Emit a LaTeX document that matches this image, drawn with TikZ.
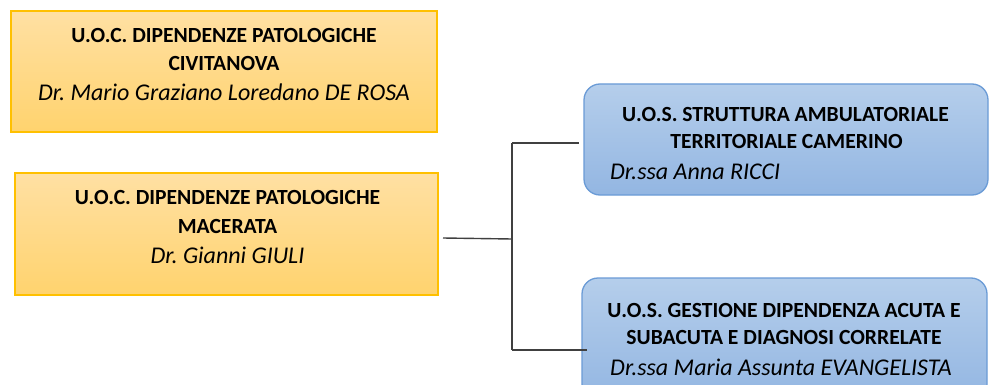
\documentclass[tikz,border=0pt]{standalone}
\usepackage{fontspec}
\setmainfont{Carlito}
\definecolor{orTop}{HTML}{FFE0A3}
\definecolor{orBot}{HTML}{FFD36E}
\definecolor{orLine}{HTML}{FFC000}
\definecolor{blTop}{HTML}{B5CEEB}
\definecolor{blBot}{HTML}{93B6E2}
\definecolor{blLine}{HTML}{6A9BD6}
\definecolor{conn}{HTML}{404040}
\tikzset{
  obox/.style={draw=orLine, line width=1.5pt, top color=orTop, bottom color=orBot, inner sep=0pt},
  bbox/.style={draw=blLine, line width=1.3pt, top color=blTop, bottom color=blBot, rounded corners=16pt, inner sep=0pt},
  bt/.style={anchor=base, inner sep=0pt, font=\frenchspacing\fontsize{21.6}{25}\selectfont\bfseries},
  it/.style={anchor=base, inner sep=0pt, font=\frenchspacing\fontsize{24}{28}\selectfont\itshape},
  itl/.style={anchor=base west, inner sep=0pt, font=\frenchspacing\fontsize{24}{28}\selectfont\itshape},
  link/.style={draw=conn, line width=1.4pt}
}
\begin{document}
\begin{tikzpicture}[x=1pt,y=-1pt]
\clip (0,0) rectangle (998,385);
\fill[white] (0,0) rectangle (998,385);
% boxes
\path[obox] (11,11) rectangle (437,132);
\node (civ) at (224,71.5) {};
\path[obox] (15,173) rectangle (438,295);
\node (mac) at (226.5,234) {};
\path[bbox] (584,84) rectangle (988,195);
\node (cam) at (786,139.5) {};
\path[bbox] (582,278) rectangle (987,400);
\node (gest) at (784.5,339) {};
% texts
\node[bt] (c1) at (224,43) {U.O.C. DIPENDENZE PATOLOGICHE};
\node[bt] (c2) at (224,71) {CIVITANOVA};
\node[it] (c3) at (224,101) {Dr. Mario Graziano Loredano DE ROSA};
\node[bt] (m1) at (227.5,204) {U.O.C. DIPENDENZE PATOLOGICHE};
\node[bt] (m2) at (227.5,233) {MACERATA};
\node[it] (m3) at (227.5,263) {Dr. Gianni GIULI};
\node[bt] (a1) at (785.5,122) {U.O.S. STRUTTURA AMBULATORIALE};
\node[bt] (a2) at (786.5,148) {TERRITORIALE CAMERINO};
\node[itl] (a3) at (610,179) {Dr.ssa Anna RICCI};
\node[bt] (g1) at (784,317) {U.O.S. GESTIONE DIPENDENZA ACUTA E};
\node[bt] (g2) at (784,344) {SUBACUTA E DIAGNOSI CORRELATE};
\node[it] (g3) at (781,375) {Dr.ssa Maria Assunta EVANGELISTA};
% connectors
\coordinate (s) at (443,238);
\coordinate (j) at (512,239);
\coordinate (jt) at (512,143);
\coordinate (jb) at (512,350);
\coordinate (et) at (579,143);
\coordinate (eb) at (587,350);
\draw[link] (s) -- (j);
\draw[link] (jt) -- (jb);
\draw[link] (jt) -- (et);
\draw[link] (jb) -- (eb);
\end{tikzpicture}
\end{document}
